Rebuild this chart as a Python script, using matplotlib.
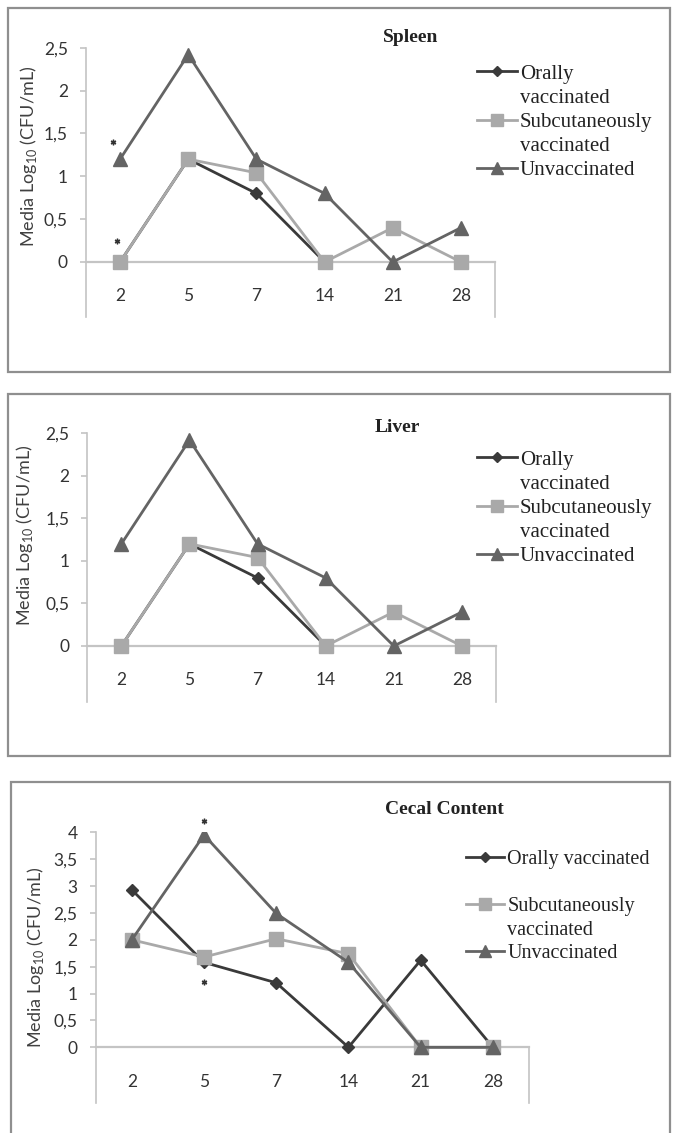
import numpy as np
import matplotlib
matplotlib.use("Agg")
import matplotlib.pyplot as plt
from matplotlib.patches import Rectangle
from matplotlib.lines import Line2D

plt.rcParams['mathtext.fontset'] = 'custom'
plt.rcParams['mathtext.rm'] = 'Lato'

# ---------------- data ----------------
days = ['2', '5', '7', '14', '21', '28']
series_names = ['Orally vaccinated', 'Subcutaneously vaccinated', 'Unvaccinated']

spleen_oral = [0, 1.2, 0.8, 0, np.nan, np.nan]
spleen_sub = [0, 1.2, 1.04, 0, 0.4, 0]
spleen_unvac = [1.2, 2.42, 1.2, 0.8, 0, 0.4]

liver_oral = [0, 1.2, 0.8, 0, np.nan, np.nan]
liver_sub = [0, 1.2, 1.04, 0, 0.4, 0]
liver_unvac = [1.2, 2.42, 1.2, 0.8, 0, 0.4]

cecal_oral = [2.93, 1.58, 1.2, 0, 1.62, 0]
cecal_sub = [2.0, 1.68, 2.02, 1.74, 0, 0]
cecal_unvac = [2.0, 3.95, 2.49, 1.58, 0, 0]

spleen_yticks = [0, 0.5, 1, 1.5, 2, 2.5]
cecal_yticks = [0, 0.5, 1, 1.5, 2, 2.5, 3, 3.5, 4]

# asterisks: (category index, value)
spleen_stars_x = [-0.1, -0.05]
spleen_stars_y = [1.40, 0.24]
cecal_stars_x = [1.0, 1.0]
cecal_stars_y = [4.21, 1.22]

# ---------------- style ----------------
W, H = 673, 1133
fig = plt.figure(figsize=(W / 100, H / 100), dpi=100)

def fx(p):
    return p / W

def fy(p):
    return 1 - p / H

C_ORAL = '#3a3a3a'
C_SUB = '#a9a9a9'
C_UNV = '#646464'
AX_C = '#c4c4c4'
TXT_C = '#333333'
SANS = ['Lato', 'DejaVu Sans']
SERIF = ['Liberation Serif', 'DejaVu Serif']

styles = [
    dict(color=C_ORAL, marker='D', ms=6.5, lw=2.0),
    dict(color=C_SUB, marker='s', ms=10, lw=2.0),
    dict(color=C_UNV, marker='^', ms=10, lw=2.0),
]

def frame(x0, y0, x1, y1):
    fig.add_artist(Rectangle((fx(x0), fy(y1)), fx(x1 - x0), (y1 - y0) / H,
                             transform=fig.transFigure, fill=False,
                             edgecolor='#8f8f8f', lw=1.6))

def panel(left, right, top_px, zero_px, bottom_px, ymax, yticks, data,
          title, title_xy, ylabel_xy, legend_xy, legend_rows, fs_leg):
    unit = (zero_px - top_px) / ymax
    ymin = -(bottom_px - zero_px) / unit
    ax = fig.add_axes([fx(left), fy(bottom_px), (right - left) / W, (bottom_px - top_px) / H])
    ax.set_facecolor('none')
    x = np.arange(len(days))
    handles = []
    for vals, st, name in zip(data, styles, series_names):
        h, = ax.plot(x, vals, color=st['color'], lw=st['lw'], marker=st['marker'],
                     ms=st['ms'], mfc=st['color'], mec=st['color'], label=name,
                     solid_joinstyle='miter', zorder=3)
        handles.append(h)
    ax.set_xlim(-0.5, len(days) - 0.5)
    ax.set_ylim(ymin, ymax)
    ax.spines['top'].set_visible(False)
    ax.spines['left'].set_color(AX_C)
    ax.spines['left'].set_linewidth(1.2)
    ax.spines['right'].set_color(AX_C)
    ax.spines['right'].set_linewidth(1.2)
    ax.spines['right'].set_bounds(ymin, 0)
    ax.spines['bottom'].set_position(('data', 0))
    ax.spines['bottom'].set_color(AX_C)
    ax.spines['bottom'].set_linewidth(1.6)
    ax.spines['bottom'].set_zorder(1)
    ax.set_yticks(yticks)
    ax.set_yticklabels([('%g' % v).replace('.', ',') for v in yticks],
                       fontfamily=SANS, fontsize=12.5, color=TXT_C)
    ax.tick_params(axis='y', length=4, width=1.2, color=AX_C, pad=9)
    ax.set_xticks(x)
    ax.set_xticklabels(days, fontfamily=SANS, fontsize=12.5, color=TXT_C)
    ax.tick_params(axis='x', length=0, pad=19)
    fig.text(fx(title_xy[0]), fy(title_xy[1]), title, fontfamily=SERIF,
             fontweight='bold', fontsize=14, ha='center', va='center', color='#222222')
    fig.text(fx(ylabel_xy[0]), fy(ylabel_xy[1]), r'Media Log$_\mathregular{10}$ (CFU/mL)',
             fontfamily=SANS, fontsize=13, rotation=90, ha='center', va='center',
             color='#404040')
    blank = Line2D([], [], linestyle='none')
    hmap = {'oral': handles[0], 'sub': handles[1], 'unv': handles[2], None: blank}
    leg_h = [hmap[k] for k, _ in legend_rows]
    leg_l = [t for _, t in legend_rows]
    leg = ax.legend(leg_h, leg_l, loc='upper left',
                    bbox_to_anchor=(fx(legend_xy[0]), fy(legend_xy[1])),
                    bbox_transform=fig.transFigure, frameon=False,
                    prop={'family': SERIF, 'size': fs_leg}, handlelength=1.9,
                    handletextpad=0.15, labelspacing=0.22, borderpad=0,
                    borderaxespad=0, numpoints=1, markerscale=0.85)
    for t in leg.get_texts():
        t.set_color('#222222')
    return ax

# frames
frame(8, 8, 670, 372)
frame(8, 394, 670, 756)
frame(11, 782, 670, 1140)

rows_split = [('oral', 'Orally'), (None, 'vaccinated'), ('sub', 'Subcutaneously'),
              (None, 'vaccinated'), ('unv', 'Unvaccinated')]
rows_cecal = [('oral', 'Orally vaccinated'), (None, ' '), ('sub', 'Subcutaneously'),
              (None, 'vaccinated'), ('unv', 'Unvaccinated')]

ax1 = panel(86, 495, 47.7, 262, 317, 2.5, spleen_yticks,
            [spleen_oral, spleen_sub, spleen_unvac], 'Spleen', (411, 37), (29, 156),
            (477, 64), rows_split, 15)
ax1.plot(spleen_stars_x, spleen_stars_y, linestyle='none', marker=(6, 2, 0), ms=4,
         color='#333333', mew=1.0, clip_on=False)

ax2 = panel(87.3, 496, 433.3, 646, 701.7, 2.5, spleen_yticks,
            [liver_oral, liver_sub, liver_unvac], 'Liver', (397, 427), (25, 535),
            (477, 450), rows_split, 15)

ax3 = panel(95.7, 529, 832.3, 1047.3, 1103, 4, cecal_yticks,
            [cecal_oral, cecal_sub, cecal_unvac], 'Cecal Content', (444, 810), (36, 957),
            (466, 850), rows_cecal, 14.5)
ax3.plot(cecal_stars_x, cecal_stars_y, linestyle='none', marker=(6, 2, 0), ms=4,
         color='#333333', mew=1.0, clip_on=False)

fig.savefig('out.png', dpi=100)
